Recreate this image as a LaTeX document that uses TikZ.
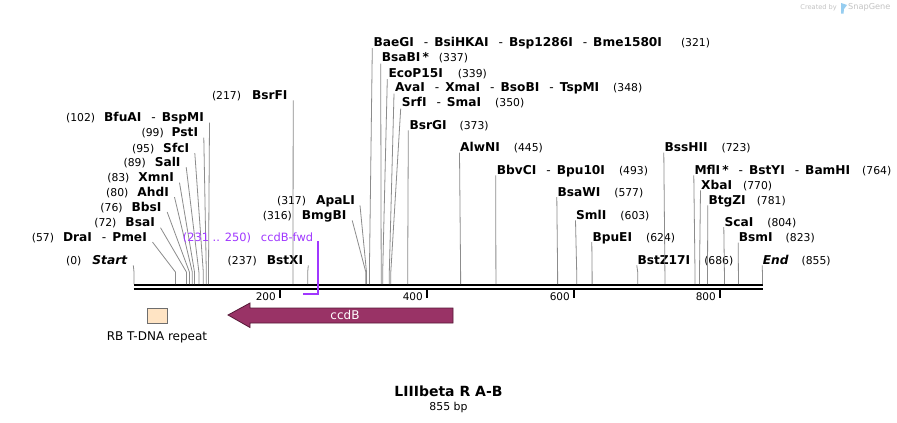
\documentclass[tikz,border=0pt]{standalone}
\usepackage{fontspec}
\setmainfont{DejaVu Sans}
\usetikzlibrary{positioning}

\definecolor{leadgray}{RGB}{140,140,140}
\definecolor{ccdbfill}{RGB}{153,51,102}
\definecolor{ccdbedge}{RGB}{85,25,55}
\definecolor{rbfill}{RGB}{255,228,196}
\definecolor{rbedge}{RGB}{110,110,110}
\definecolor{primerpurple}{RGB}{160,55,255}
\definecolor{logogray}{RGB}{195,195,195}
\definecolor{logoblue}{RGB}{150,205,240}

\newcommand{\bpnum}[1]{{\mdseries\upshape\fontsize{10.8}{13}\selectfont(#1)}}
\newcommand{\sepdash}{\hspace{10pt}{\mdseries-}\hspace{6pt}}

\begin{document}
\begin{tikzpicture}[x=1pt,y=-1pt,
	rightlabel/.style={anchor=base west,inner sep=0pt,font=\fontsize{12.2}{14}\selectfont\bfseries},
	leftlabel/.style={anchor=base east,inner sep=0pt,font=\fontsize{12.2}{14}\selectfont\bfseries},
	leader/.style={draw=leadgray,line width=0.8pt},
	backbone/.style={draw=black,line width=2pt},
	scaletick/.style={draw=black,line width=2pt},
	ticklabel/.style={anchor=east,inner sep=0pt,font=\fontsize{10.5}{12}\selectfont},
	primerline/.style={draw=primerpurple,line width=1.8pt},
	ccdbarrow/.style={fill=ccdbfill,draw=ccdbedge,line width=0.8pt},
	rbbox/.style={rectangle,fill=rbfill,draw=rbedge,line width=0.8pt,minimum width=20pt,minimum height=15pt,inner sep=0pt},
	featlabel/.style={inner sep=0pt,font=\fontsize{12}{14}\selectfont}]

		\fill[white] (0,0) rectangle (897,423);
		\useasboundingbox (0,0) rectangle (897,423);

		\node[anchor=east,inner sep=0pt,text=logogray,font=\fontsize{6.6}{8}\selectfont]		(createdby)	at (837,7.5)	{Created by};
		\fill[logoblue] (841,3) -- (847,5) -- (844,9) -- (843.5,13.5) -- (841,13.5) -- cycle;
		\node[anchor=west,inner sep=0pt,text=logogray,font=\fontsize{8.2}{10}\selectfont]		(snapgene)	at (848,7.5)	{SnapGene};

		\coordinate (bbl1) at (133.5,285);
		\coordinate (bbr1) at (762.5,285);
		\coordinate (bbl2) at (133.5,289);
		\coordinate (bbr2) at (762.5,289);
		\draw[backbone] (bbl1) -- (bbr1);
		\draw[backbone] (bbl2) -- (bbr2);

		\coordinate (t200) at (280,290);
		\coordinate (t400) at (427,290);
		\coordinate (t600) at (574,290);
		\coordinate (t800) at (720,290);
		\draw[scaletick] (t200) -- ++(0,7.5);
		\draw[scaletick] (t400) -- ++(0,7.5);
		\draw[scaletick] (t600) -- ++(0,7.5);
		\draw[scaletick] (t800) -- ++(0,7.5);
		\node[ticklabel]		(n200)	at (276,297)	{200};
		\node[ticklabel]		(n400)	at (423,297)	{400};
		\node[ticklabel]		(n600)	at (570,297)	{600};
		\node[ticklabel]		(n800)	at (716,297)	{800};

		\coordinate (s0) at (134,284);		\coordinate (b0) at (134,272);
		\coordinate (s57) at (175.4,284);	\coordinate (b57) at (175.4,272);
		\coordinate (s72) at (186.4,284);	\coordinate (b72) at (186.4,272);
		\coordinate (s76) at (189.4,284);	\coordinate (b76) at (189.4,272);
		\coordinate (s80) at (192.3,284);	\coordinate (b80) at (192.3,272);
		\coordinate (s83) at (194.5,284);	\coordinate (b83) at (194.5,272);
		\coordinate (s89) at (198.9,284);	\coordinate (b89) at (198.9,272);
		\coordinate (s95) at (203.3,284);	\coordinate (b95) at (203.3,272);
		\coordinate (s99) at (206.3,284);	\coordinate (b99) at (206.3,272);
		\coordinate (s102) at (208.5,284);	\coordinate (b102) at (208.5,272);
		\coordinate (s217) at (293,284);	\coordinate (b217) at (293,272);
		\coordinate (s237) at (307.7,284);	\coordinate (b237) at (307.7,272);
		\coordinate (s316) at (365.8,284);	\coordinate (b316) at (365.8,272);
		\coordinate (s317) at (366.5,284);	\coordinate (b317) at (366.5,272);
		\coordinate (s321) at (369.4,284);	\coordinate (b321) at (369.4,272);
		\coordinate (s337) at (381.2,284);	\coordinate (b337) at (381.2,272);
		\coordinate (s339) at (382.7,284);	\coordinate (b339) at (382.7,272);
		\coordinate (s348) at (389.3,284);	\coordinate (b348) at (389.3,272);
		\coordinate (s350) at (390.8,284);	\coordinate (b350) at (390.8,272);
		\coordinate (s373) at (407.7,284);	\coordinate (b373) at (407.7,272);
		\coordinate (s445) at (460.6,284);	\coordinate (b445) at (460.6,272);
		\coordinate (s493) at (495.9,284);	\coordinate (b493) at (495.9,272);
		\coordinate (s577) at (557.6,284);	\coordinate (b577) at (557.6,272);
		\coordinate (s603) at (576.7,284);	\coordinate (b603) at (576.7,272);
		\coordinate (s624) at (592.1,284);	\coordinate (b624) at (592.1,272);
		\coordinate (s686) at (637.7,284);	\coordinate (b686) at (637.7,272);
		\coordinate (s723) at (664.9,284);	\coordinate (b723) at (664.9,272);
		\coordinate (s764) at (695,284);	\coordinate (b764) at (695,272);
		\coordinate (s770) at (699.5,284);	\coordinate (b770) at (699.5,272);
		\coordinate (s781) at (707.5,284);	\coordinate (b781) at (707.5,272);
		\coordinate (s804) at (724.4,284);	\coordinate (b804) at (724.4,272);
		\coordinate (s823) at (738.4,284);	\coordinate (b823) at (738.4,272);
		\coordinate (s855) at (762.4,284);	\coordinate (b855) at (762.4,272);

		\node[leftlabel]		(start)		at (127.3,264.4)	{\bpnum{0}\hspace{11pt}{\itshape Start}};
		\node[leftlabel]		(drai)		at (147,241.1)		{\bpnum{57}\hspace{9pt}DraI\sepdash PmeI};
		\node[leftlabel]		(bsai)		at (155,226.7)		{\bpnum{72}\hspace{9pt}BsaI};
		\node[leftlabel]		(bbsi)		at (161.7,211.1)	{\bpnum{76}\hspace{9pt}BbsI};
		\node[leftlabel]		(ahdi)		at (169,196.1)		{\bpnum{80}\hspace{9pt}AhdI};
		\node[leftlabel]		(xmni)		at (174,181.7)		{\bpnum{83}\hspace{9pt}XmnI};
		\node[leftlabel]		(sali)		at (180.7,166.1)	{\bpnum{89}\hspace{9pt}SalI};
		\node[leftlabel]		(sfci)		at (189.3,152.1)	{\bpnum{95}\hspace{9pt}SfcI};
		\node[leftlabel]		(psti)		at (198.3,136.7)	{\bpnum{99}\hspace{8pt}PstI};
		\node[leftlabel]		(bfuai)		at (204,121.7)		{\bpnum{102}\hspace{9pt}BfuAI\sepdash BspMI};
		\node[leftlabel]		(bsrfi)		at (287.7,99.4)		{\bpnum{217}\hspace{11pt}BsrFI};
		\node[leftlabel]		(bstxi)		at (303.3,264.4)	{\bpnum{237}\hspace{10pt}BstXI};
		\node[leftlabel]		(bmgbi)		at (346.7,219.4)	{\bpnum{316}\hspace{10pt}BmgBI};
		\node[leftlabel]		(apali)		at (355,204.4)		{\bpnum{317}\hspace{10pt}ApaLI};

		\node[rightlabel]		(baegi)		at (373.3,46.1)		{BaeGI\sepdash BsiHKAI\sepdash Bsp1286I\sepdash Bme1580I\hspace{19pt}\bpnum{321}};
		\node[rightlabel]		(bsabi)		at (381.7,61.7)		{BsaBI\,*\hspace{10pt}\bpnum{337}};
		\node[rightlabel]		(ecop15i)	at (388.3,77.1)		{EcoP15I\hspace{15pt}\bpnum{339}};
		\node[rightlabel]		(avai)		at (395,91.7)		{AvaI\sepdash XmaI\sepdash BsoBI\sepdash TspMI\hspace{14pt}\bpnum{348}};
		\node[rightlabel]		(srfi)		at (401.7,106.7)	{SrfI\sepdash SmaI\hspace{14pt}\bpnum{350}};
		\node[rightlabel]		(bsrgi)		at (409.3,129.4)	{BsrGI\hspace{13pt}\bpnum{373}};
		\node[rightlabel]		(alwni)		at (460,151.7)		{AlwNI\hspace{14pt}\bpnum{445}};
		\node[rightlabel]		(bbvci)		at (496.7,174.4)	{BbvCI\sepdash Bpu10I\hspace{14pt}\bpnum{493}};
		\node[rightlabel]		(bsawi)		at (557.3,196.1)	{BsaWI\hspace{14pt}\bpnum{577}};
		\node[rightlabel]		(smli)		at (576,219.4)		{SmlI\hspace{14pt}\bpnum{603}};
		\node[rightlabel]		(bpuei)		at (592.3,241.1)	{BpuEI\hspace{14pt}\bpnum{624}};
		\node[rightlabel]		(bstz17i)	at (637.3,264.4)	{BstZ17I\hspace{14pt}\bpnum{686}};
		\node[rightlabel]		(bsshii)	at (664.3,151.7)	{BssHII\hspace{14pt}\bpnum{723}};
		\node[rightlabel]		(mfli)		at (694.3,174.4)	{MflI\,*\sepdash BstYI\sepdash BamHI\hspace{12pt}\bpnum{764}};
		\node[rightlabel]		(xbai)		at (701,189.4)		{XbaI\hspace{11pt}\bpnum{770}};
		\node[rightlabel]		(btgzi)		at (708.3,204.4)	{BtgZI\hspace{11pt}\bpnum{781}};
		\node[rightlabel]		(scai)		at (724.3,226.1)	{ScaI\hspace{14pt}\bpnum{804}};
		\node[rightlabel]		(bsmi)		at (738.7,241.7)	{BsmI\hspace{13pt}\bpnum{823}};
		\node[rightlabel]		(end)		at (762.7,264.4)	{{\itshape End}\hspace{13pt}\bpnum{855}};

		\draw[leader] ([xshift=6pt,yshift=-1pt]start.base east) -- (b0) -- (s0);
		\draw[leader] ([xshift=5.5pt,yshift=-1pt]drai.base east) -- (b57) -- (s57);
		\draw[leader] ([xshift=5.5pt,yshift=-1pt]bsai.base east) -- (b72) -- (s72);
		\draw[leader] ([xshift=5.5pt,yshift=-1pt]bbsi.base east) -- (b76) -- (s76);
		\draw[leader] ([xshift=5.5pt,yshift=-1pt]ahdi.base east) -- (b80) -- (s80);
		\draw[leader] ([xshift=5.5pt,yshift=-1pt]xmni.base east) -- (b83) -- (s83);
		\draw[leader] ([xshift=5.5pt,yshift=-1pt]sali.base east) -- (b89) -- (s89);
		\draw[leader] ([xshift=5.5pt,yshift=-1pt]sfci.base east) -- (b95) -- (s95);
		\draw[leader] ([xshift=5.5pt,yshift=-1pt]psti.base east) -- (b99) -- (s99);
		\draw[leader] ([xshift=5.5pt,yshift=-1pt]bfuai.base east) -- (b102) -- (s102);
		\draw[leader] ([xshift=5.5pt,yshift=-1pt]bsrfi.base east) -- (b217) -- (s217);
		\draw[leader] ([xshift=5pt,yshift=-1pt]bstxi.base east) -- (b237) -- (s237);
		\draw[leader] ([xshift=5.5pt,yshift=-1pt]bmgbi.base east) -- (b316) -- (s316);
		\draw[leader] ([xshift=5pt,yshift=-1pt]apali.base east) -- (b317) -- (s317);

		\draw[leader] ([xshift=-1pt,yshift=-2pt]baegi.base west) -- (b321) -- (s321);
		\draw[leader] ([xshift=-1pt,yshift=-2pt]bsabi.base west) -- (b337) -- (s337);
		\draw[leader] ([xshift=-1pt,yshift=-2pt]ecop15i.base west) -- (b339) -- (s339);
		\draw[leader] ([xshift=-1pt,yshift=-2pt]avai.base west) -- (b348) -- (s348);
		\draw[leader] ([xshift=-1pt,yshift=-2pt]srfi.base west) -- (b350) -- (s350);
		\draw[leader] ([xshift=-1pt,yshift=-1pt]bsrgi.base west) -- (b373) -- (s373);
		\draw[leader] ([xshift=-0.5pt,yshift=-1pt]alwni.base west) -- (b445) -- (s445);
		\draw[leader] ([xshift=-1pt,yshift=-1pt]bbvci.base west) -- (b493) -- (s493);
		\draw[leader] ([xshift=-0.5pt,yshift=-1pt]bsawi.base west) -- (b577) -- (s577);
		\draw[leader] ([xshift=-0.5pt,yshift=-1pt]smli.base west) -- (b603) -- (s603);
		\draw[leader] ([xshift=-0.5pt,yshift=-1pt]bpuei.base west) -- (b624) -- (s624);
		\draw[leader] ([xshift=-0.5pt,yshift=-1pt]bstz17i.base west) -- (b686) -- (s686);
		\draw[leader] ([xshift=-0.5pt,yshift=-1pt]bsshii.base west) -- (b723) -- (s723);
		\draw[leader] ([xshift=-0.5pt,yshift=-1pt]mfli.base west) -- (b764) -- (s764);
		\draw[leader] ([xshift=-0.5pt,yshift=-1pt]xbai.base west) -- (b770) -- (s770);
		\draw[leader] ([xshift=-0.5pt,yshift=-1pt]btgzi.base west) -- (b781) -- (s781);
		\draw[leader] ([xshift=-0.5pt,yshift=-1pt]scai.base west) -- (b804) -- (s804);
		\draw[leader] ([xshift=-0.5pt,yshift=-1pt]bsmi.base west) -- (b823) -- (s823);
		\draw[leader] ([xshift=-0.5pt,yshift=-1pt]end.base west) -- (b855) -- (s855);

		\node[anchor=base east,inner sep=0pt,text=primerpurple,font=\fontsize{11.4}{13}\selectfont]	(ccdbfwd)	at (313.3,241.1)	{(231 .. 250)\hspace{10pt}ccdB-fwd};
		\coordinate (p231) at (303,294);
		\coordinate (p250) at (317.6,294);
		\draw[primerline] (ccdbfwd.base east -| p250) -- (p250) -- (p231);

		\draw[ccdbarrow] (453,308) -- (250,308) -- (250,303) -- (228,315) -- (250,327.5) -- (250,323) -- (453,323) -- cycle;
		\node[featlabel,text=white]		(ccdb)	at (345,315.5)	{ccdB};

		\node[rbbox]					(rb)	at (157,315.5)	{};
		\node[featlabel,below=8.3pt of rb]	(rblabel)	{RB T-DNA repeat};

		\node[anchor=base,inner sep=0pt,font=\fontsize{14}{16}\selectfont\bfseries]	(title)	at (448.5,396.8)	{LIIIbeta R A-B};
		\node[anchor=base,inner sep=0pt,font=\fontsize{10.9}{12}\selectfont]		(bplen)	at (448.5,410.7)	{855 bp};
	\end{tikzpicture}
\end{document}
